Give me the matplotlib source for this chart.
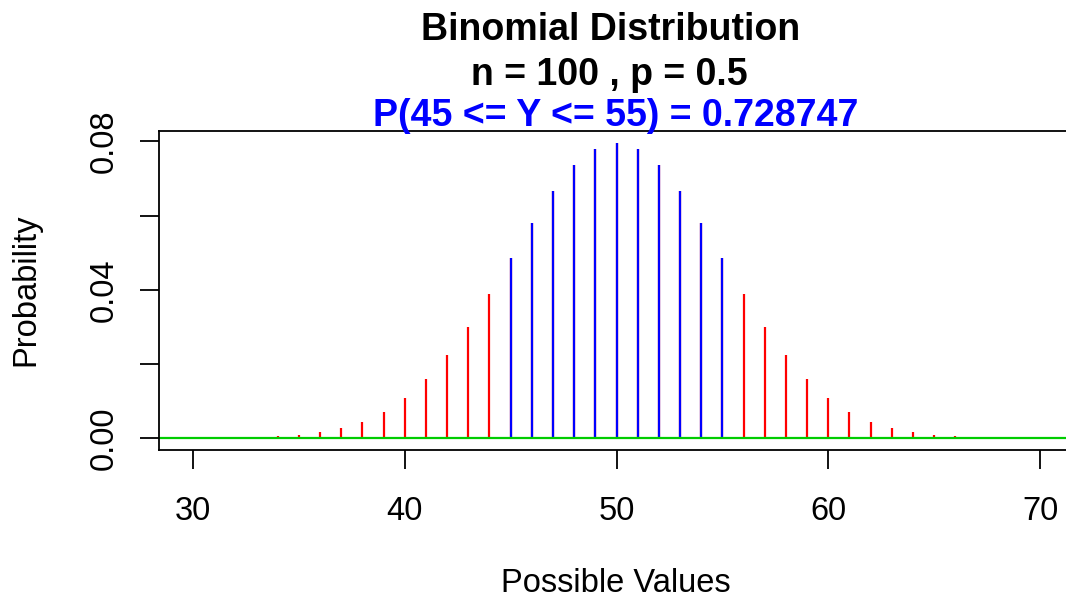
import matplotlib
matplotlib.use("Agg")
import matplotlib.pyplot as plt

# binomial probabilities (n = 100, p = 0.5), x = 30..70
x_vals = list(range(30, 71))
probs = [0.0000232, 0.0000511, 0.000111, 0.000231, 0.000457, 0.000864, 0.00156,
         0.00270, 0.00447, 0.00711, 0.01084, 0.01587, 0.02229, 0.03007, 0.03895,
         0.04847, 0.05796, 0.06659, 0.07353, 0.07803, 0.07959, 0.07803, 0.07353,
         0.06659, 0.05796, 0.04847, 0.03895, 0.03007, 0.02229, 0.01587, 0.01084,
         0.00711, 0.00447, 0.00270, 0.00156, 0.000864, 0.000457, 0.000231,
         0.000111, 0.0000511, 0.0000232]
lo, hi = 45, 55
xticks = [30, 40, 50, 60, 70]
yticks = [0.00, 0.02, 0.04, 0.06, 0.08]
ylabels = ["0.00", "", "0.04", "", "0.08"]

plt.rcParams['font.family'] = ['Liberation Sans', 'DejaVu Sans']

W, H = 1066, 598
fig = plt.figure(figsize=(W / 100, H / 100), dpi=100)
ax = fig.add_axes([159 / W, 1 - 450 / H, (1074 - 159) / W, (450 - 131) / H])

ax.vlines(x_vals, 0, probs, colors='red', linewidth=1.6)
sel = [i for i, x in enumerate(x_vals) if lo <= x <= hi]
ax.vlines([x_vals[i] for i in sel], 0, [probs[i] for i in sel], colors='blue', linewidth=1.6)
ax.axhline(0, color='#00cc00', linewidth=1.6)

ymax = max(probs)
ax.set_xlim(30 - 0.04 * 40, 70 + 0.04 * 40)
ax.set_ylim(-0.04 * ymax, ymax * 1.04)

ax.set_xticks(xticks)
ax.set_xticklabels([str(t) for t in xticks], fontsize=23.5)
ax.set_yticks(yticks)
ax.set_yticklabels(ylabels, fontsize=23.5, rotation=90, va='center')
ax.tick_params(axis='both', length=14, width=1.3, color='black')
ax.tick_params(axis='x', pad=19)
ax.tick_params(axis='y', pad=14)
for s in ax.spines.values():
    s.set_linewidth(1.3)

fig.text(26 / W, 1 - 290 / H, "Probability", rotation=90, ha='center', va='center', fontsize=23.5)
fig.text(616 / W, 1 - 583 / H, "Possible Values", ha='center', va='center', fontsize=23.5)

fig.text(611 / W, 1 - 30 / H, "Binomial Distribution", ha='center', va='center',
         fontsize=27, fontweight='bold')
fig.text(609 / W, 1 - 75 / H, "n = 100 , p = 0.5", ha='center', va='center',
         fontsize=27, fontweight='bold')
fig.text(616 / W, 1 - 116 / H, "P(%d <= Y <= %d) = 0.728747" % (lo, hi), ha='center',
         va='center', fontsize=27, fontweight='bold', color='blue')

fig.savefig("out.png", dpi=100)
